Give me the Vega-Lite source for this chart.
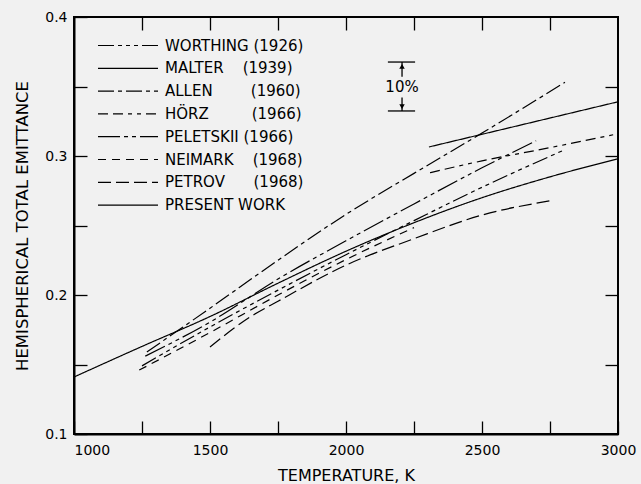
{
  "$schema": "https://vega.github.io/schema/vega-lite/v6.json",
  "width": 544,
  "height": 417,
  "autosize": {"type": "none"},
  "padding": {"left": 74, "top": 17, "right": 23, "bottom": 50},
  "background": "#f1f1f1",
  "config": {
    "view": {"stroke": "black", "strokeWidth": 2},
    "font": "DejaVu Sans",
    "axis": {"domainColor": "black", "tickColor": "black", "labelColor": "black", "titleColor": "black", "grid": false, "labelFont": "DejaVu Sans", "titleFont": "DejaVu Sans", "titleFontWeight": "normal", "domainWidth": 2, "tickWidth": 1.3}
  },
  "datasets": {
    "curves": [
      {"series": "WORTHING (1926)", "T": 1250, "e": 0.149},
      {"series": "WORTHING (1926)", "T": 1500, "e": 0.177},
      {"series": "WORTHING (1926)", "T": 1750, "e": 0.2035},
      {"series": "WORTHING (1926)", "T": 2000, "e": 0.229},
      {"series": "WORTHING (1926)", "T": 2250, "e": 0.2535},
      {"series": "WORTHING (1926)", "T": 2500, "e": 0.2775},
      {"series": "WORTHING (1926)", "T": 2798, "e": 0.304},
      {"series": "MALTER\u00a0\u00a0\u00a0\u00a0(1939)", "T": 1000, "e": 0.141},
      {"series": "MALTER\u00a0\u00a0\u00a0\u00a0(1939)", "T": 1250, "e": 0.163},
      {"series": "MALTER\u00a0\u00a0\u00a0\u00a0(1939)", "T": 1500, "e": 0.1845},
      {"series": "MALTER\u00a0\u00a0\u00a0\u00a0(1939)", "T": 1750, "e": 0.2085},
      {"series": "MALTER\u00a0\u00a0\u00a0\u00a0(1939)", "T": 2000, "e": 0.2315},
      {"series": "MALTER\u00a0\u00a0\u00a0\u00a0(1939)", "T": 2250, "e": 0.252},
      {"series": "MALTER\u00a0\u00a0\u00a0\u00a0(1939)", "T": 2500, "e": 0.27},
      {"series": "MALTER\u00a0\u00a0\u00a0\u00a0(1939)", "T": 2750, "e": 0.285},
      {"series": "MALTER\u00a0\u00a0\u00a0\u00a0(1939)", "T": 3000, "e": 0.298},
      {"series": "ALLEN\u00a0\u00a0\u00a0\u00a0\u00a0\u00a0\u00a0\u00a0(1960)", "T": 1268, "e": 0.159},
      {"series": "ALLEN\u00a0\u00a0\u00a0\u00a0\u00a0\u00a0\u00a0\u00a0(1960)", "T": 1500, "e": 0.1905},
      {"series": "ALLEN\u00a0\u00a0\u00a0\u00a0\u00a0\u00a0\u00a0\u00a0(1960)", "T": 1750, "e": 0.225},
      {"series": "ALLEN\u00a0\u00a0\u00a0\u00a0\u00a0\u00a0\u00a0\u00a0(1960)", "T": 2000, "e": 0.258},
      {"series": "ALLEN\u00a0\u00a0\u00a0\u00a0\u00a0\u00a0\u00a0\u00a0(1960)", "T": 2250, "e": 0.2875},
      {"series": "ALLEN\u00a0\u00a0\u00a0\u00a0\u00a0\u00a0\u00a0\u00a0(1960)", "T": 2500, "e": 0.3165},
      {"series": "ALLEN\u00a0\u00a0\u00a0\u00a0\u00a0\u00a0\u00a0\u00a0(1960)", "T": 2805, "e": 0.353},
      {"series": "HÖRZ\u00a0\u00a0\u00a0\u00a0\u00a0\u00a0\u00a0\u00a0\u00a0(1966)", "T": 2309, "e": 0.288},
      {"series": "HÖRZ\u00a0\u00a0\u00a0\u00a0\u00a0\u00a0\u00a0\u00a0\u00a0(1966)", "T": 2500, "e": 0.2965},
      {"series": "HÖRZ\u00a0\u00a0\u00a0\u00a0\u00a0\u00a0\u00a0\u00a0\u00a0(1966)", "T": 2750, "e": 0.306},
      {"series": "HÖRZ\u00a0\u00a0\u00a0\u00a0\u00a0\u00a0\u00a0\u00a0\u00a0(1966)", "T": 3000, "e": 0.316},
      {"series": "PELETSKII (1966)", "T": 1262, "e": 0.156},
      {"series": "PELETSKII (1966)", "T": 1500, "e": 0.1805},
      {"series": "PELETSKII (1966)", "T": 1750, "e": 0.2115},
      {"series": "PELETSKII (1966)", "T": 2000, "e": 0.239},
      {"series": "PELETSKII (1966)", "T": 2250, "e": 0.2655},
      {"series": "PELETSKII (1966)", "T": 2500, "e": 0.2915},
      {"series": "PELETSKII (1966)", "T": 2699, "e": 0.311},
      {"series": "NEIMARK\u00a0\u00a0\u00a0\u00a0(1968)", "T": 1240, "e": 0.146},
      {"series": "NEIMARK\u00a0\u00a0\u00a0\u00a0(1968)", "T": 1500, "e": 0.173},
      {"series": "NEIMARK\u00a0\u00a0\u00a0\u00a0(1968)", "T": 1750, "e": 0.2},
      {"series": "NEIMARK\u00a0\u00a0\u00a0\u00a0(1968)", "T": 2000, "e": 0.2255},
      {"series": "NEIMARK\u00a0\u00a0\u00a0\u00a0(1968)", "T": 2250, "e": 0.2485},
      {"series": "PETROV\u00a0\u00a0\u00a0\u00a0\u00a0\u00a0(1968)", "T": 1500, "e": 0.1626},
      {"series": "PETROV\u00a0\u00a0\u00a0\u00a0\u00a0\u00a0(1968)", "T": 1650, "e": 0.1845},
      {"series": "PETROV\u00a0\u00a0\u00a0\u00a0\u00a0\u00a0(1968)", "T": 1750, "e": 0.1955},
      {"series": "PETROV\u00a0\u00a0\u00a0\u00a0\u00a0\u00a0(1968)", "T": 2000, "e": 0.2215},
      {"series": "PETROV\u00a0\u00a0\u00a0\u00a0\u00a0\u00a0(1968)", "T": 2250, "e": 0.2405},
      {"series": "PETROV\u00a0\u00a0\u00a0\u00a0\u00a0\u00a0(1968)", "T": 2500, "e": 0.2575},
      {"series": "PETROV\u00a0\u00a0\u00a0\u00a0\u00a0\u00a0(1968)", "T": 2757, "e": 0.268},
      {"series": "PRESENT WORK", "T": 2305, "e": 0.3065},
      {"series": "PRESENT WORK", "T": 3000, "e": 0.339}
    ],
    "bar": [
      {"T1": 2154, "T2": 2254, "e1": 0.3676, "e2": 0.3676},
      {"T1": 2154, "T2": 2254, "e1": 0.3324, "e2": 0.3324},
      {"T1": 2206, "T2": 2206, "e1": 0.3676, "e2": 0.357},
      {"T1": 2206, "T2": 2206, "e1": 0.342, "e2": 0.3324}
    ]
  },
  "layer": [
    {
      "data": {"name": "curves"},
      "mark": {"type": "line", "color": "black", "interpolate": "monotone", "clip": true},
      "encoding": {
        "x": {"field": "T", "type": "quantitative", "scale": {"domain": [1000, 3000], "nice": false},
          "axis": {"title": "TEMPERATURE, K", "titleFontSize": 16, "titlePadding": 10, "values": [1000, 1250, 1500, 1750, 2000, 2250, 2500, 2750, 3000], "format": "d", "labelExpr": "datum.value % 500 == 0 ? datum.label : ''", "labelAlign": {"condition": {"test": "datum.value == 1000", "value": "left"}, "value": "center"}, "tickSize": -13, "labelPadding": 22, "labelFontSize": 14, "labelFlush": false}},
        "y": {"field": "e", "type": "quantitative", "scale": {"domain": [0.1, 0.4], "nice": false, "zero": false},
          "axis": {"title": "HEMISPHERICAL TOTAL EMITTANCE", "titleFontSize": 16.5, "titlePadding": 14, "values": [0.1, 0.15, 0.2, 0.25, 0.3, 0.35, 0.4], "labelExpr": "abs(round(datum.value*10) - datum.value*10) < 0.01 ? format(datum.value, '.1f') : ''", "tickSize": -13, "labelPadding": 20, "labelFontSize": 14, "labelFlush": false}},
        "strokeDash": {"field": "series", "type": "nominal",
          "scale": {"domain": ["WORTHING (1926)", "MALTER\u00a0\u00a0\u00a0\u00a0(1939)", "ALLEN\u00a0\u00a0\u00a0\u00a0\u00a0\u00a0\u00a0\u00a0(1960)", "HÖRZ\u00a0\u00a0\u00a0\u00a0\u00a0\u00a0\u00a0\u00a0\u00a0(1966)", "PELETSKII (1966)", "NEIMARK\u00a0\u00a0\u00a0\u00a0(1968)", "PETROV\u00a0\u00a0\u00a0\u00a0\u00a0\u00a0(1968)", "PRESENT WORK"],
            "range": [[16, 4, 4, 4, 4, 4, 4, 4], [1, 0], [16, 4, 4, 4], [10, 5, 10, 5, 4, 5, 4, 5], [22, 4, 4, 4, 4, 4], [8, 6], [13, 5], [1, 0]]},
          "legend": {"title": null, "orient": "none", "legendX": 23, "legendY": 21, "symbolType": "stroke", "symbolSize": 3600, "symbolStrokeColor": "black", "labelFontSize": 15, "labelColor": "black", "labelFont": "DejaVu Sans", "clipHeight": 15, "rowPadding": 6.8, "labelOffset": 6, "padding": 0, "labelLimit": 300}},
        "strokeWidth": {"field": "series", "type": "nominal",
          "scale": {"domain": ["WORTHING (1926)", "MALTER\u00a0\u00a0\u00a0\u00a0(1939)", "ALLEN\u00a0\u00a0\u00a0\u00a0\u00a0\u00a0\u00a0\u00a0(1960)", "HÖRZ\u00a0\u00a0\u00a0\u00a0\u00a0\u00a0\u00a0\u00a0\u00a0(1966)", "PELETSKII (1966)", "NEIMARK\u00a0\u00a0\u00a0\u00a0(1968)", "PETROV\u00a0\u00a0\u00a0\u00a0\u00a0\u00a0(1968)", "PRESENT WORK"],
            "range": [1.2, 1.2, 1.2, 1.2, 1.2, 1.2, 1.2, 2.8]},
          "legend": null}
      }
    },
    {
      "data": {"name": "curves"},
      "mark": {"type": "rule", "opacity": 0},
      "encoding": {
        "x": {"datum": 1000, "type": "quantitative", "axis": {"orient": "top", "values": [1250, 1500, 1750, 2000, 2250, 2500, 2750], "labels": false, "title": null, "tickSize": -13, "domain": false}},
        "y": {"datum": 0.1, "type": "quantitative", "axis": {"orient": "right", "values": [0.15, 0.2, 0.25, 0.3, 0.35], "labels": false, "title": null, "tickSize": -13, "domain": false}}
      }
    },
    {
      "data": {"name": "bar"},
      "mark": {"type": "rule", "color": "black", "strokeWidth": 1.3},
      "encoding": {
        "x": {"field": "T1", "type": "quantitative", "axis": null},
        "x2": {"field": "T2"},
        "y": {"field": "e1", "type": "quantitative", "axis": null},
        "y2": {"field": "e2"}
      }
    },
    {
      "data": {"values": [{"T": 2206, "e": 0.3645}]},
      "mark": {"type": "point", "shape": "triangle-up", "filled": true, "color": "black", "size": 30, "opacity": 1},
      "encoding": {"x": {"field": "T", "type": "quantitative", "axis": null}, "y": {"field": "e", "type": "quantitative", "axis": null}}
    },
    {
      "data": {"values": [{"T": 2206, "e": 0.3355}]},
      "mark": {"type": "point", "shape": "triangle-down", "filled": true, "color": "black", "size": 30, "opacity": 1},
      "encoding": {"x": {"field": "T", "type": "quantitative", "axis": null}, "y": {"field": "e", "type": "quantitative", "axis": null}}
    },
    {
      "data": {"values": [{"T": 2206, "e": 0.3496, "label": "10%"}]},
      "mark": {"type": "text", "fontSize": 15, "color": "black", "align": "center", "baseline": "middle", "font": "DejaVu Sans"},
      "encoding": {"x": {"field": "T", "type": "quantitative", "axis": null}, "y": {"field": "e", "type": "quantitative", "axis": null}, "text": {"field": "label"}}
    }
  ],
  "resolve": {"axis": {"x": "independent", "y": "independent"}}
}
